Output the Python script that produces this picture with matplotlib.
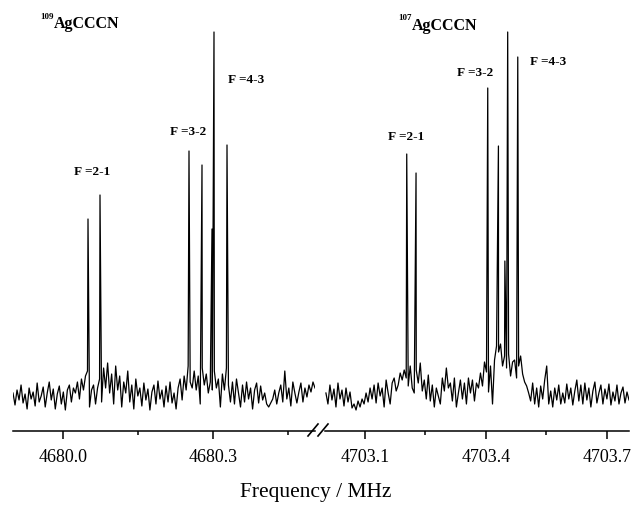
import numpy as np
import matplotlib
matplotlib.use("Agg")
import matplotlib.pyplot as plt
from matplotlib.lines import Line2D
from matplotlib.ticker import FixedLocator, FormatStrFormatter

plt.rcParams["font.family"] = ["Liberation Serif", "DejaVu Serif"]

# 109AgCCCN window (MHz)
f109_range = (4679.900, 4680.504)
peaks109_f = [4680.050, 4680.074, 4680.252, 4680.278, 4680.298, 4680.302, 4680.328]
peaks109_h = [177, 201, 245, 231, 167, 364, 251]
noise109 = [
    3, -9, 6, -4, 11, -7, 2, -13, 8, -3,
    4, -10, 13, -6, 0, 9, -11, 3, 14, -4,
    7, -13, 2, 10, -8, 4, -14, 6, 11, -6,
    8, 3, 14, -3, 17, 6, 20, 25, -11, 6,
    11, -8, 8, 17, -6, 28, 8, 33, 3, 22,
    -8, 30, 6, 20, -11, 14, 3, 25, -6, 11,
    -13, 17, 0, 8, -10, 13, -4, 7, -14, 4,
    11, -8, 15, -3, 6, -11, 10, -6, 14, -7,
    3, -13, 8, 17, -4, 20, 6, 30, 14, 8,
    25, 6, 20, -8, 28, 11, 22, 3, 14, 6,
    25, 8, 17, -11, 22, 6, 28, 11, -6, 14,
    -8, 17, 3, -11, 11, -6, 14, -3, 8, -13,
    6, 13, -7, 10, -4, 3, -8, -11, -7, -3,
    6, -8, 3, 11, -6, 25, -3, 8, -10, 14,
    3, -7, 4, 13, -6, 8, -1, 11, 4, 14,
    8,
]
ticks109 = [4680.0, 4680.3]
minor109 = [4680.15, 4680.45]

# 107AgCCCN window (MHz)
f107_range = (4703.003, 4703.755)
peaks107_f = [4703.2035, 4703.2266, 4703.4045, 4703.431, 4703.447, 4703.454, 4703.479]
peaks107_h = [242, 223, 308, 250, 135, 364, 339]
noise107 = [
    3, -8, 11, -4, 7, -11, 13, -3, 6, -10,
    8, -6, 4, -12, -8, -14, -5, -11, -3, -8,
    3, -6, 8, -3, 11, -7, 13, 0, 8, -11,
    16, 3, -8, 13, 18, 5, 11, 23, 16, 26,
    18, 10, 30, 8, 3, 26, 13, 33, 5, 16,
    -3, 21, -5, 11, -11, 8, 0, -8, 18, 5,
    28, 8, 13, -5, 18, -11, 3, 16, -3, 13,
    -8, 18, 3, 16, -5, 13, 8, 23, 10, 34,
    24, 4, 30, -8, 36, 50, 44, 52, 30, 40,
    28, 42, 20, 34, 36, 18, 30, 40, 22, 14,
    10, 3, -5, 13, -8, 8, -11, 10, -3, 16,
    30, -8, 5, -11, 8, -4, 11, -8, 3, -7,
    12, -3, 8, -9, 5, 16, -5, 11, -8, 13,
    -4, 8, -11, 5, 14, -7, 3, 11, -8, 7,
    -3, 12, -9, 4, -5, 11, -8, 3, 9, -7,
    4, -4,
]
ticks107 = [4703.1, 4703.4, 4703.7]
minor107 = [4703.25, 4703.55]

W, H = 632, 510


def trace(frange, noise, pf, ph):
    x = np.linspace(frange[0], frange[1], len(noise))
    y = np.array(noise, dtype=float)
    x = np.concatenate([x, pf])
    y = np.concatenate([y, ph])
    order = np.argsort(x)
    return x[order], y[order]


def setup(ax, xlim, major, minor):
    ax.set_xlim(*xlim)
    ax.set_ylim(-35, 377)
    for s in ["left", "right", "top"]:
        ax.spines[s].set_visible(False)
    ax.spines["bottom"].set_linewidth(1.1)
    ax.set_yticks([])
    ax.xaxis.set_major_locator(FixedLocator(major))
    ax.xaxis.set_minor_locator(FixedLocator(minor))
    ax.xaxis.set_major_formatter(FormatStrFormatter("%.1f"))
    ax.tick_params(axis="x", which="major", direction="out", length=6, width=1.1,
                   labelsize=13, pad=6)
    ax.tick_params(axis="x", which="minor", direction="out", length=3, width=1.1)


fig = plt.figure(figsize=(W / 100, H / 100), dpi=100)
bottom = (H - 432) / H
height = 412 / H
ax1 = fig.add_axes([13 / W, bottom, (315 - 13) / W, height])
ax2 = fig.add_axes([325 / W, bottom, (629 - 325) / W, height])

x, y = trace(f109_range, noise109, peaks109_f, peaks109_h)
ax1.plot(x, y, color="black", lw=0.9)
setup(ax1, f109_range, ticks109, minor109)

x, y = trace(f107_range, noise107, peaks107_f, peaks107_h)
ax2.plot(x, y, color="black", lw=0.9)
setup(ax2, (4703.0007, 4703.755), ticks107, minor107)

# axis break marks
for x0 in [308, 318]:
    fig.add_artist(Line2D([x0 / W, (x0 + 10) / W], [1 - 437 / H, 1 - 425 / H],
                          color="black", lw=1.2))


def ftext(px, py, s, **kw):
    fig.text(px / W, 1 - py / H, s, **kw)


lab = dict(fontsize=9.5, fontweight="bold", ha="center", va="center")
ftext(92.5, 172, "F =2-1", **lab)
ftext(188, 132, "F =3-2", **lab)
ftext(246.5, 80, "F =4-3", **lab)
ftext(406.5, 137, "F =2-1", **lab)
ftext(475.5, 73, "F =3-2", **lab)
ftext(548, 62, "F =4-3", **lab)

ftext(40, 19, "109", fontsize=6.5, fontweight="bold", va="baseline")
ftext(54, 28, "AgCCCN", fontsize=11.5, fontweight="bold", va="baseline")
ftext(398, 20, "107", fontsize=6.5, fontweight="bold", va="baseline")
ftext(412, 30, "AgCCCN", fontsize=11.5, fontweight="bold", va="baseline")

ftext(316, 493, "Frequency / MHz", fontsize=15.5, ha="center", va="center")

fig.savefig("out.png", dpi=100)
